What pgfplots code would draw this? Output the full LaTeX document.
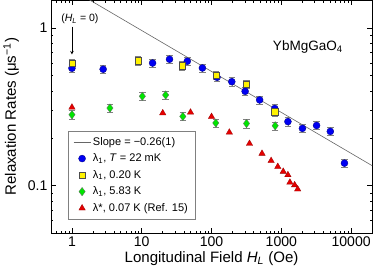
\documentclass[border=0pt]{standalone}
\usepackage{pgfplots}
\pgfplotsset{compat=1.18}
\usepackage{fontspec}
\setmainfont{Liberation Sans}
\begin{document}
\begin{tikzpicture}
\begin{axis}[
  xmode=log, ymode=log,
  scale only axis, width=320pt, height=232pt,
  xmin=0.5, xmax=20000, ymin=0.05, ymax=1.5,
  xtick={1,10,100,1000,10000},
  xticklabels={1,10,100,1000,10000},
  ytick={0.1,1}, yticklabels={0.1,1},
  minor xtick={0.5,0.6,0.7,0.8,0.9,2,3,4,5,6,7,8,9,20,30,40,50,60,70,80,90,200,300,400,500,600,700,800,900,2000,3000,4000,5000,6000,7000,8000,9000,20000},
  minor ytick={0.06,0.07,0.08,0.09,0.2,0.3,0.4,0.5,0.6,0.7,0.8,0.9},
  tick align=inside,
  major tick length=5pt, minor tick length=2.5pt,
  every tick/.style={black, line width=0.5pt},
  axis line style={line width=0.6pt},
  tick label style={font=\fontsize{14}{16}\selectfont},
  label style={font=\fontsize{15}{17}\selectfont},
  xlabel={Longitudinal Field \textit{H}\textsubscript{\textit{L}} (Oe)},
  ylabel={Relaxation Rates (μs\textsuperscript{−1})},
  xlabel style={yshift=2pt},
  ylabel style={yshift=2pt},
  legend style={at={(0.053,0.06)}, anchor=south west, draw=gray, line width=0.5pt,
    font=\fontsize{11}{13}\selectfont, row sep=3pt, inner xsep=5pt, inner ysep=4pt},
  legend cell align=left,
  every odd column/.append style={column sep=7pt},
  clip=true,
  error bars/error bar style={gray, line width=0.5pt},
  error bars/error mark options={rotate=90, mark size=3.2pt, gray, line width=0.5pt},
]
% fit line
\addplot[gray!80!black, line width=0.6pt] coordinates {(0.5,2.1) (20000,0.134)};
\addlegendentry{Slope = −0.26(1)}
% blue
\addplot[only marks, mark=*, mark size=3.5pt, mark options={fill=blue!95!black, draw=blue!50!black, line width=0.3pt},
  error bars/.cd, y dir=both, y fixed relative=0.06] coordinates {
(1,0.556) (2.8,0.548) (14.3,0.60) (25,0.634) (45,0.616) (74,0.558) (120,0.487) (195,0.457) (303,0.397) (489,0.35) (805,0.309) (1243,0.255) (2006,0.231) (3200,0.241) (5035,0.221) (8030,0.139)};
\addlegendentry{λ\textsubscript{1}, \textit{T} = 22 mK}
% yellow
\addplot[only marks, mark=square*, mark size=3.1pt, mark options={fill=yellow, draw=black!70, line width=0.3pt},
  error bars/.cd, y dir=both, y fixed relative=0.06] coordinates {
(1,0.60) (8.9,0.622) (38,0.578) (115,0.50) (317,0.442) (805,0.295)};
\addlegendentry{λ\textsubscript{1}, 0.20 K}
% green
\addplot[only marks, mark=diamond*, mark size=4.2pt, mark options={fill=green!90!black, draw=black!60, line width=0.3pt},
  error bars/.cd, y dir=both, y fixed relative=0.06] coordinates {
(1,0.282) (3.5,0.311) (10.2,0.369) (22,0.376) (38.8,0.275) (115,0.25) (317,0.248) (816,0.24)};
\addlegendentry{λ\textsubscript{1}, 5.83 K}
% red
\addplot[only marks, mark=triangle*, mark size=3.7pt, mark options={fill=red!90!black, draw=red!60!black, line width=0.3pt}] coordinates {
(1,0.314) (20,0.289) (50,0.292) (100,0.274) (180,0.218) (350,0.185) (529,0.16) (714,0.144) (890,0.132) (1065,0.123) (1243,0.117) (1327,0.105) (1553,0.101) (1715,0.095)};
\addlegendentry{λ*, 0.07 K (Ref. 15)}
\node[font=\fontsize{10.5}{12}\selectfont] at (axis cs:1.3,1.14) {(\textit{H}\textsubscript{\textit{L}} = 0)};
\draw[-stealth, line width=0.6pt] (axis cs:1,1.02) -- (axis cs:1,0.68);
\node[font=\fontsize{13.5}{15}\selectfont] at (axis cs:2400,0.757) {YbMgGaO\textsubscript{4}};
\end{axis}
\end{tikzpicture}
\end{document}
